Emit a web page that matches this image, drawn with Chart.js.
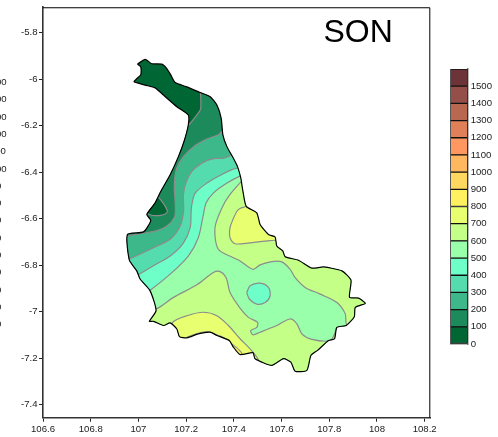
<!DOCTYPE html>
<html>
<head>
<meta charset="utf-8">
<script src="https://cdn.jsdelivr.net/npm/chart.js@4"></script>
<style>
  body { margin: 0; background: #fff; }
  #wrap { position: relative; width: 498px; height: 437px; overflow: hidden; }
  canvas { position: absolute; }
</style>
</head>
<body>
<div id="wrap">
  <canvas id="map" width="498" height="437" style="left:0;top:0"></canvas>
  <canvas id="bar" width="58" height="295" style="left:440px;top:60px"></canvas>
</div>
<script>
const panelTitle = 'SON';
const lonTicks = [106.6, 106.8, 107, 107.2, 107.4, 107.6, 107.8, 108, 108.2];
const latTicks = [-5.8, -6, -6.2, -6.4, -6.6, -6.8, -7, -7.2, -7.4];
const barTicks = [0, 100, 200, 300, 400, 500, 600, 700, 800, 900, 1000, 1100, 1200, 1300, 1400, 1500];
const barSteps = [100, 100, 100, 100, 100, 100, 100, 100, 100, 100, 100, 100, 100, 100, 100, 100];
const barColors = ['#006633', '#1c8a5a', '#3cb88a', '#55dcae', '#6effc8', '#99ffaa', '#c4ff88', '#e8ff70',
  '#fff060', '#ffd860', '#ffb860', '#ff9860', '#e08058', '#b86850', '#945048', '#6c3438'];
// labels of the neighbouring panel's colour bar, cut by the left edge
const cutLabels = ['1500', '1400', '1300', '1200', '1100', '1000', '900', '800', '700', '600', '500', '400', '300', '200', '100'];

// catchment outline, [lon, lat]
const outline = [
  [106.996, -5.935], [107.028, -5.914], [107.056, -5.933], [107.098, -5.935], [107.119, -5.954], [107.136, -5.982],
  [107.154, -6.014], [107.203, -6.033], [107.259, -6.057], [107.301, -6.075], [107.329, -6.111], [107.347, -6.168],
  [107.354, -6.239], [107.371, -6.290], [107.398, -6.340], [107.415, -6.375], [107.429, -6.425], [107.438, -6.482],
  [107.452, -6.547], [107.496, -6.575], [107.510, -6.625], [107.545, -6.668], [107.573, -6.679], [107.580, -6.718],
  [107.605, -6.739], [107.615, -6.764], [107.671, -6.779], [107.727, -6.813], [107.776, -6.808], [107.853, -6.825],
  [107.891, -6.865], [107.885, -6.939], [107.923, -6.942], [107.951, -6.965], [107.909, -6.982], [107.905, -7.022],
  [107.871, -7.060], [107.832, -7.068], [107.822, -7.117], [107.797, -7.125], [107.751, -7.167], [107.723, -7.189],
  [107.706, -7.253], [107.657, -7.257], [107.639, -7.218], [107.608, -7.203], [107.559, -7.232], [107.489, -7.203],
  [107.480, -7.177], [107.426, -7.185], [107.398, -7.153], [107.381, -7.125], [107.329, -7.103], [107.301, -7.089],
  [107.251, -7.096], [107.203, -7.113], [107.172, -7.108], [107.161, -7.075], [107.133, -7.049], [107.105, -7.060],
  [107.063, -7.042], [107.046, -7.042], [107.074, -6.996], [107.049, -6.911], [107.007, -6.860], [106.993, -6.825],
  [106.962, -6.779], [106.954, -6.668], [107.021, -6.657], [107.052, -6.608], [107.035, -6.582], [107.070, -6.532],
  [107.094, -6.482], [107.133, -6.411], [107.168, -6.332], [107.191, -6.268], [107.209, -6.197], [107.209, -6.154],
  [107.161, -6.118], [107.105, -6.068], [107.070, -6.037], [107.028, -6.025], [106.982, -6.011], [106.993, -5.997],
  [107.010, -5.980], [107.010, -5.947], [106.996, -5.935]
];

// contour areas, each runs past the outline where it is cut off
const above100 = [[107.259, -6.033], [107.261, -6.127], [107.246, -6.152], [107.200, -6.208], [106.85, -6.525], [106.85, -7.4], [108.1, -7.4], [108.1, -6.033]];
const lens0 = [[107.082, -6.504], [107.112, -6.546], [107.121, -6.571], [107.098, -6.585], [107.049, -6.583], [107.007, -6.546], [107.049, -6.482], [107.082, -6.504]];
const above200 = [[107.376, -6.217], [107.350, -6.225], [107.335, -6.239], [107.287, -6.257], [107.238, -6.285], [107.189, -6.332], [107.161, -6.382], [107.151, -6.439], [107.151, -6.482], [107.155, -6.554], [107.151, -6.594], [107.119, -6.632], [107.070, -6.654], [107.007, -6.665], [106.954, -6.675], [106.902, -6.684], [106.85, -7.4], [108.1, -7.4], [108.1, -6.217]];
const above300 = [[107.418, -6.324], [107.398, -6.325], [107.356, -6.340], [107.314, -6.342], [107.266, -6.361], [107.224, -6.397], [107.199, -6.447], [107.189, -6.495], [107.189, -6.568], [107.175, -6.632], [107.133, -6.689], [107.063, -6.725], [106.965, -6.772], [106.902, -6.799], [106.85, -7.4], [108.1, -7.4], [108.1, -6.324]];
const above400 = [[107.447, -6.379], [107.415, -6.382], [107.392, -6.389], [107.342, -6.414], [107.287, -6.447], [107.238, -6.490], [107.224, -6.539], [107.221, -6.568], [107.217, -6.639], [107.189, -6.704], [107.133, -6.761], [107.063, -6.803], [107.003, -6.839], [106.931, -6.881], [106.85, -7.4], [108.1, -7.4], [108.1, -6.379]];
const above500 = [[107.460, -6.405], [107.423, -6.418], [107.371, -6.447], [107.314, -6.490], [107.284, -6.532], [107.271, -6.589], [107.251, -6.682], [107.209, -6.761], [107.133, -6.839], [107.049, -6.908], [106.965, -6.966], [106.85, -7.4], [108.1, -7.4], [108.1, -6.405]];
const above600East = [[107.468, -6.405], [107.433, -6.439], [107.384, -6.496], [107.350, -6.554], [107.321, -6.639], [107.335, -6.732], [107.398, -6.768], [107.426, -6.782], [107.480, -6.818], [107.510, -6.799], [107.559, -6.785], [107.601, -6.786], [107.636, -6.818], [107.657, -6.854], [107.699, -6.896], [107.762, -6.925], [107.832, -6.961], [107.867, -7.010], [107.871, -7.052], [107.896, -7.103], [108.1, -7.103], [108.1, -6.405]];
const above600South = [[106.965, -7.018], [107.074, -6.989], [107.147, -6.939], [107.245, -6.885], [107.314, -6.832], [107.342, -6.828], [107.368, -6.856], [107.384, -6.918], [107.426, -6.985], [107.461, -7.025], [107.499, -7.046], [107.496, -7.068], [107.471, -7.082], [107.480, -7.100], [107.510, -7.089], [107.580, -7.060], [107.636, -7.032], [107.664, -7.053], [107.685, -7.096], [107.727, -7.120], [107.804, -7.125], [107.825, -7.089], [107.832, -7.069], [107.867, -7.103], [108.1, -7.4], [106.965, -7.4]];
const pocket400 = [[107.454, -6.918], [107.468, -6.889], [107.510, -6.878], [107.545, -6.896], [107.552, -6.932], [107.531, -6.961], [107.496, -6.968], [107.465, -6.946], [107.454, -6.918]];
const above700North = [[107.489, -6.525], [107.452, -6.547], [107.426, -6.556], [107.413, -6.568], [107.397, -6.602], [107.384, -6.639], [107.384, -6.682], [107.405, -6.708], [107.468, -6.704], [107.510, -6.699], [107.573, -6.693], [107.636, -6.688]];
const above700South = [[107.124, -7.103], [107.144, -7.046], [107.203, -7.018], [107.272, -7.003], [107.329, -7.018], [107.377, -7.060], [107.426, -7.117], [107.480, -7.175], [107.502, -7.219], [107.259, -7.296]];
const above800 = [[107.203, -7.111], [107.245, -7.095], [107.287, -7.086], [107.314, -7.095], [107.356, -7.112], [107.384, -7.133], [107.433, -7.180], [107.426, -7.232], [107.217, -7.189]];

const toXY = pts => pts.map(p => ({ x: p[0], y: p[1] }));
const font = { family: '"Liberation Sans", Arial, sans-serif', size: 9.6 };
const lineColor = '#8c8c8c';
const outlineTension = 0.2;

// painter's order, the first one ends up at the bottom
const layers = [
  [outline, barColors[0]],
  [above100, barColors[1]],
  [lens0, barColors[0]],
  [above200, barColors[2]],
  [above300, barColors[3]],
  [above400, barColors[4]],
  [above500, barColors[5]],
  [above600East, barColors[6]],
  [above600South, barColors[6]],
  [pocket400, barColors[4]],
  [above700North, barColors[7]],
  [above700South, barColors[7]],
  [above800, barColors[8]]
];

const datasets = layers.map((l, i) => ({
  data: toXY(l[0]),
  showLine: true,
  fill: 'shape',
  tension: i === 0 ? outlineTension : 0.3,
  backgroundColor: l[1],
  borderColor: i === 0 ? l[1] : lineColor,
  borderWidth: 1.2,
  pointRadius: 0,
  order: layers.length - i + 1
}));
datasets.push({
  data: toXY(outline),
  showLine: true,
  fill: false,
  tension: outlineTension,
  borderColor: '#000',
  borderWidth: 1.2,
  pointRadius: 0,
  order: 0
});
const outlineIndex = datasets.length - 1;

// keeps the contour areas inside the catchment, the outline itself is drawn unclipped
const clipToOutline = {
  id: 'clipToOutline',
  beforeDatasetsDraw(chart) {
    const line = chart.getDatasetMeta(outlineIndex).dataset;
    const ctx = chart.ctx;
    line.updateControlPoints(chart.chartArea);
    ctx.save();
    ctx.beginPath();
    line.path(ctx);
    ctx.closePath();
    ctx.clip();
  },
  beforeDatasetDraw(chart, args) {
    if (args.index === outlineIndex) chart.ctx.restore();
  }
};

const frameAndText = {
  id: 'frameAndText',
  afterDraw(chart) {
    const ctx = chart.ctx, a = chart.chartArea;
    ctx.save();
    ctx.strokeStyle = '#000';
    ctx.lineWidth = 1;
    ctx.beginPath();
    ctx.moveTo(a.left, a.top + 0.5);
    ctx.lineTo(a.right - 0.5, a.top + 0.5);
    ctx.lineTo(a.right - 0.5, a.bottom);
    ctx.stroke();
    ctx.fillStyle = '#000';
    ctx.font = '32px "Liberation Sans", Arial, sans-serif';
    ctx.textAlign = 'left';
    ctx.textBaseline = 'alphabetic';
    ctx.fillText(panelTitle, 323.5, 41.5);
    ctx.font = '9.6px "Liberation Sans", Arial, sans-serif';
    ctx.fillStyle = '#222';
    ctx.textBaseline = 'middle';
    cutLabels.forEach((t, i) => ctx.fillText(t, -14.7, 82.5 + i * 17.29));
    ctx.restore();
  }
};

const shortNum = v => String(+(+v).toFixed(1));

new Chart(document.getElementById('map'), {
  type: 'scatter',
  data: { datasets: datasets },
  plugins: [clipToOutline, frameAndText],
  options: {
    responsive: false,
    animation: false,
    events: [],
    layout: { padding: { left: 0, top: 5, right: 67.7, bottom: 0 } },
    plugins: { legend: { display: false }, tooltip: { enabled: false } },
    scales: {
      x: {
        type: 'linear',
        min: 106.6,
        max: 108.2235,
        afterBuildTicks: s => { s.ticks = lonTicks.map(v => ({ value: v })); },
        afterFit: s => { s.height = 19.3; },
        border: { color: '#333', width: 1.6 },
        grid: { drawOnChartArea: false, tickLength: 4, tickColor: '#222' },
        ticks: { font: font, color: '#222', padding: 1.5, maxRotation: 0, autoSkip: false, callback: shortNum }
      },
      y: {
        type: 'linear',
        min: -7.457,
        max: -5.69,
        afterBuildTicks: s => { s.ticks = latTicks.map(v => ({ value: v })); },
        afterFit: s => { s.width = 43; },
        border: { color: '#333', width: 1.6 },
        grid: { drawOnChartArea: false, tickLength: 4, tickColor: '#222' },
        ticks: { font: font, color: '#222', padding: 1.5, autoSkip: false, callback: shortNum }
      }
    }
  }
});

new Chart(document.getElementById('bar'), {
  type: 'bar',
  data: {
    labels: [''],
    datasets: barSteps.map((v, i) => ({
      data: [v],
      backgroundColor: barColors[i],
      borderColor: '#111',
      borderWidth: 1,
      borderSkipped: false,
      barPercentage: 1,
      categoryPercentage: 1
    }))
  },
  options: {
    responsive: false,
    animation: false,
    events: [],
    layout: { padding: { left: 10.3, top: 9, right: 0, bottom: 0 } },
    plugins: { legend: { display: false }, tooltip: { enabled: false } },
    scales: {
      x: {
        stacked: true,
        afterFit: s => { s.height = 11; },
        border: { color: '#777', width: 1.5 },
        grid: { display: false, drawTicks: false },
        ticks: { display: false }
      },
      y: {
        stacked: true,
        position: 'right',
        min: 0,
        max: 1600,
        afterBuildTicks: s => { s.ticks = barTicks.map(v => ({ value: v })); },
        afterFit: s => { s.width = 30.3; },
        border: { color: '#777', width: 1.5 },
        grid: { drawOnChartArea: false, drawTicks: false },
        ticks: { font: font, color: '#222', padding: 3, autoSkip: false, callback: v => String(v) }
      }
    }
  }
});
</script>
</body>
</html>
